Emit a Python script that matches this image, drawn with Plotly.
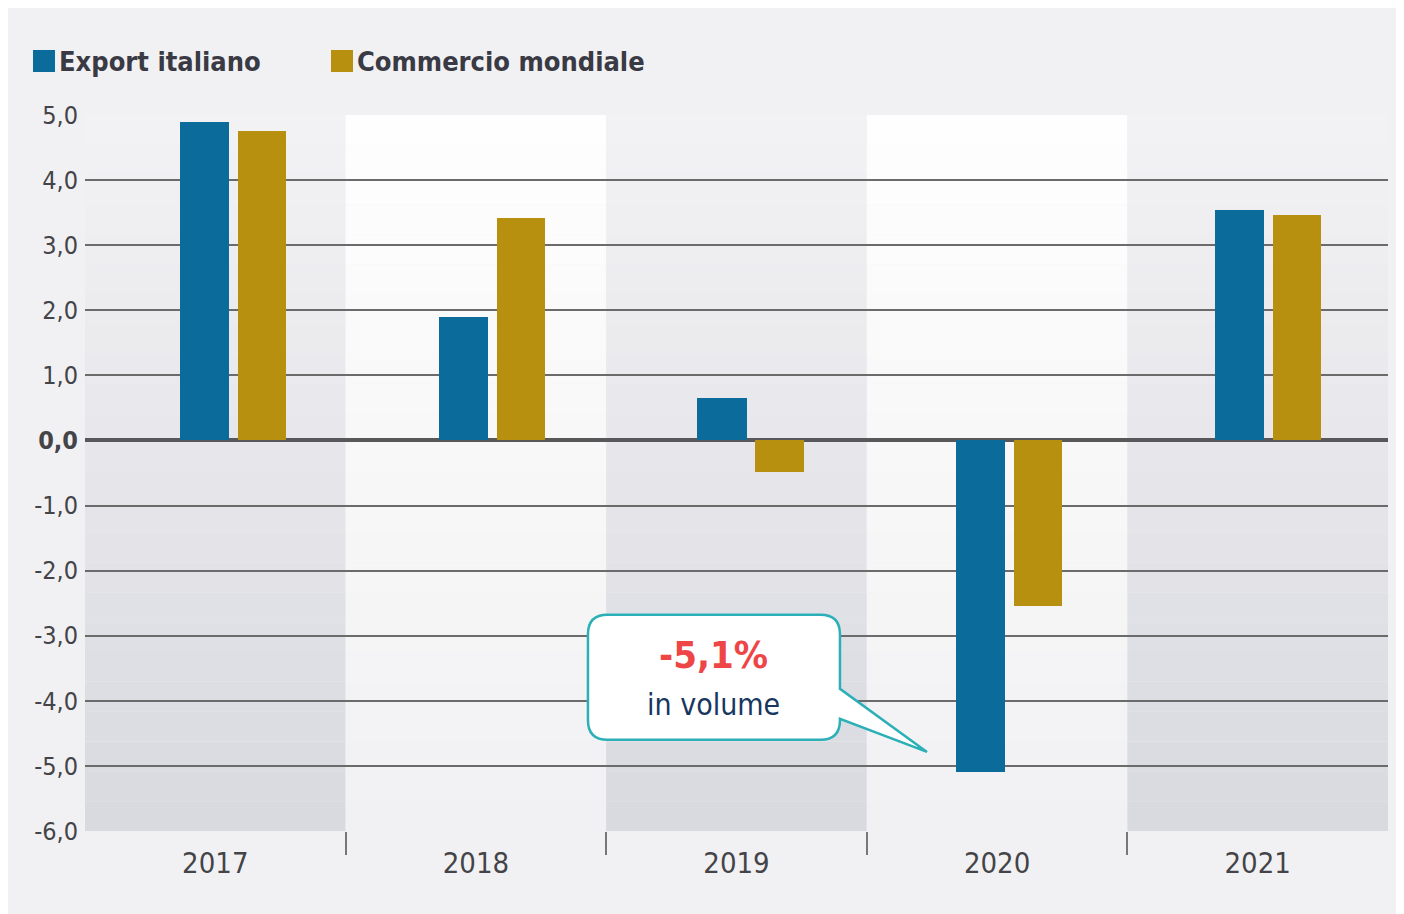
import plotly.graph_objects as go

years = ["2017", "2018", "2019", "2020", "2021"]
export_it = [4.9, 1.9, 0.65, -5.1, 3.54]
commercio = [4.75, 3.42, -0.48, -2.54, 3.46]
y_ticks = [5, 4, 3, 2, 1, 0, -1, -2, -3, -4, -5, -6]

FONT = "DejaVu Sans Condensed, Liberation Sans Narrow, Roboto, sans-serif"
BLUE = "#0b6b9b"
GOLD = "#b8900f"


def mix(c1, c2, t):
    a = [int(c1[i:i + 2], 16) for i in (1, 3, 5)]
    b = [int(c2[i:i + 2], 16) for i in (1, 3, 5)]
    return "#" + "".join(f"{round(x + (y - x) * t):02x}" for x, y in zip(a, b))


fig = go.Figure()
x = list(range(len(years)))

# bars sit on a second x axis: in the original the bar pairs are spaced a bit
# tighter than the category bands
fig.add_trace(go.Bar(x=x, y=export_it, name="Export italiano", marker_color=BLUE,
                     marker_line=dict(width=0), offset=-0.205, width=0.19,
                     xaxis="x2", showlegend=False))
fig.add_trace(go.Bar(x=x, y=commercio, name="Commercio mondiale", marker_color=GOLD,
                     marker_line=dict(width=0), offset=0.019, width=0.186,
                     xaxis="x2", showlegend=False))

# alternating background bands with a vertical gradient
shapes = []
n = 24
lo, hi = min(y_ticks), max(y_ticks)
for i in range(len(years)):
    if i % 2 == 0:
        top, bot = "#f3f3f5", "#d8d8e0"
    else:
        top, bot = "#fefefe", "#f1f1f3"
    for k in range(n):
        y0 = hi - (hi - lo) * k / n
        y1 = hi - (hi - lo) * (k + 1) / n
        shapes.append(dict(type="rect", xref="x", yref="y", layer="below",
                           x0=i - 0.5, x1=i + 0.5, y0=y0, y1=y1,
                           fillcolor=mix(top, bot, (k + 0.5) / n), line_width=0))

# hand-made legend (big square swatches)
annotations = []
for name, col, px in [("Export italiano", BLUE, -52), ("Commercio mondiale", GOLD, 246)]:
    shapes.append(dict(type="rect", xref="paper", yref="paper", xsizemode="pixel",
                       ysizemode="pixel", xanchor=0, yanchor=1,
                       x0=px, x1=px + 22, y0=43, y1=65,
                       fillcolor=col, line_width=0))
    annotations.append(dict(x=0, y=1, xref="paper", yref="paper", xanchor="left",
                            yanchor="middle", xshift=px + 24, yshift=54,
                            text=f"<b>{name}</b>", showarrow=False,
                            font=dict(size=27, color="#3a3a44", family=FONT)))

# callout bubble
x0, x1, yt, yb = 1.430, 2.397, -2.677, -4.60
rx, ry = 0.075, 0.30
p_top, p_bot, tip = -3.815, -4.277, (2.731, -4.785)
path = (f"M {x0 + rx},{yt} L {x1 - rx},{yt} Q {x1},{yt} {x1},{yt - ry} "
        f"L {x1},{p_top} L {tip[0]},{tip[1]} L {x1},{p_bot} "
        f"L {x1},{yb + ry} Q {x1},{yb} {x1 - rx},{yb} "
        f"L {x0 + rx},{yb} Q {x0},{yb} {x0},{yb + ry} "
        f"L {x0},{yt - ry} Q {x0},{yt} {x0 + rx},{yt} Z")
shapes.append(dict(type="path", path=path, xref="x", yref="y", layer="above",
                   fillcolor="white", line=dict(color="#2ab0b6", width=2.5)))

annotations += [
    dict(x=(x0 + x1) / 2, y=-3.3, xref="x", yref="y", text="<b>-5,1%</b>",
         showarrow=False, font=dict(size=38, color="#ee4646", family=FONT)),
    dict(x=(x0 + x1) / 2, y=-4.05, xref="x", yref="y", text="in volume",
         showarrow=False, font=dict(size=30, color="#17375f", family=FONT)),
]

fig.update_layout(
    width=1404, height=914,
    margin=dict(l=77, r=24, t=107, b=91, autoexpand=False),
    paper_bgcolor="#f1f1f3",
    plot_bgcolor="rgba(0,0,0,0)",
    barmode="overlay",
    bargap=0,
    shapes=shapes,
    annotations=annotations,
    showlegend=False,
    font=dict(family=FONT, color="#444448"),
    xaxis=dict(range=[-0.5, 4.5], tickvals=x, ticktext=years, ticks="",
               ticklabelstandoff=12, tickfont=dict(size=29, color="#444448"),
               showgrid=False, zeroline=False, fixedrange=True,
               minor=dict(tickvals=[0.5, 1.5, 2.5, 3.5], ticks="outside",
                          ticklen=23, tickcolor="#777", tickwidth=2)),
    xaxis2=dict(overlaying="x", range=[-0.572, -0.572 + 1303 / 258.75],
                visible=False, showgrid=False, zeroline=False, fixedrange=True),
)

fig.update_yaxes(range=[lo, hi], tickvals=y_ticks,
                 ticktext=[("<b>%s</b>" if v == 0 else "%s") % f"{v:.1f}".replace(".", ",")
                           for v in y_ticks],
                 tickfont=dict(size=25, color="#444448"), ticklabelstandoff=6,
                 showgrid=True, gridcolor="#6b6b6b", gridwidth=2,
                 zeroline=True, zerolinecolor="#58585a", zerolinewidth=3.5,
                 fixedrange=True)

fig.write_html("out.html")
